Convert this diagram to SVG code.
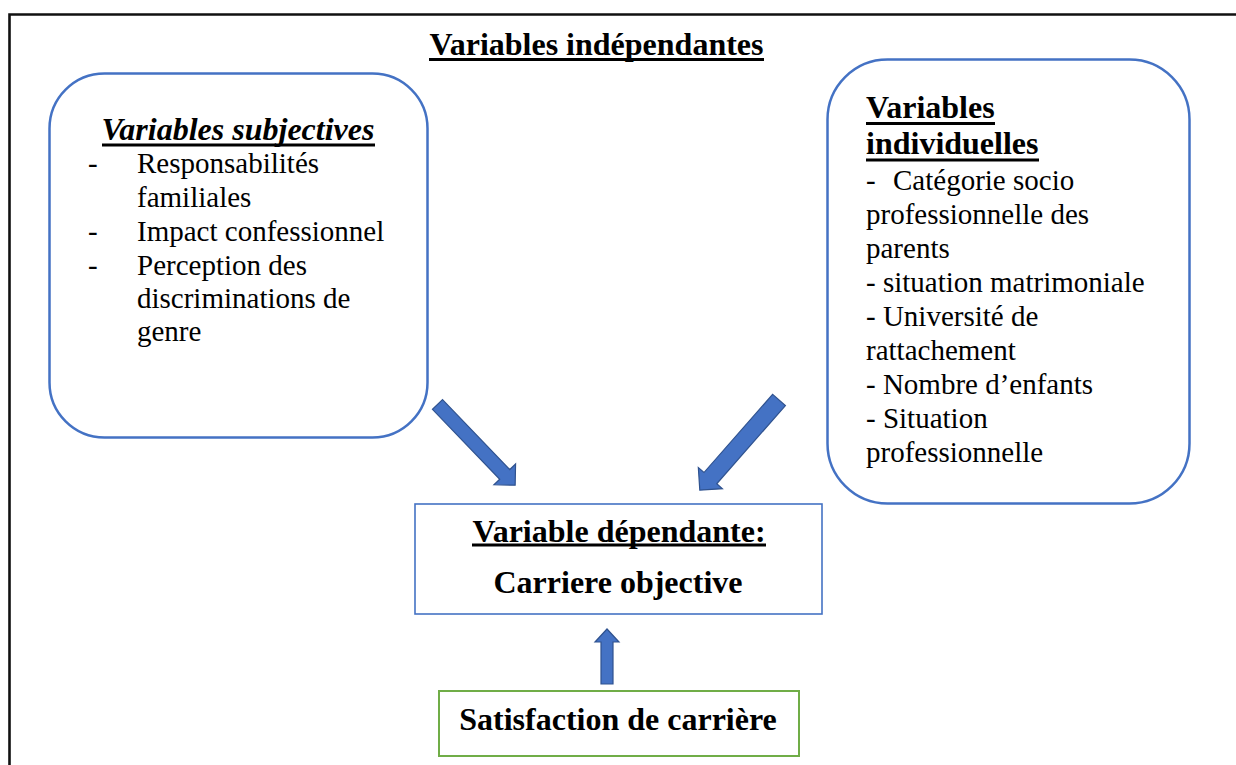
<svg xmlns="http://www.w3.org/2000/svg" width="1236" height="765" viewBox="0 0 1236 765">
  <defs>
    <style>
      text { font-family: 'Liberation Serif', 'Times New Roman', serif; fill: #000; }
      .b { font-weight: bold; font-size: 32px; }
      .r { font-size: 29px; }
      .bi { font-weight: bold; font-style: italic; font-size: 32px; }
      .ul { stroke: #000; stroke-width: 3; }
      .rbox { fill: #fff; stroke: #4472C4; stroke-width: 2.5; }
      .arrow { fill: #4472C4; stroke: #2F528F; stroke-width: 1.2; stroke-linejoin: miter; }
    </style>
  </defs>
  <rect width="1236" height="765" fill="#fff"/>
  <path d="M 9.5 775 L 9.5 14.5 L 1250 14.5" fill="none" stroke="#111" stroke-width="2.6"/>

  <g id="title">
    <text class="b" x="596.5" y="55" text-anchor="middle">Variables indépendantes</text>
    <line class="ul" x1="429" y1="59.5" x2="764" y2="59.5" stroke-width="3.5"/>
  </g>

  <g id="subjectives">
    <rect class="rbox" x="49.5" y="73.5" width="378" height="364" rx="55" ry="55"/>
    <text class="bi" x="238" y="140" text-anchor="middle">Variables subjectives</text>
    <line class="ul" x1="102" y1="145" x2="375" y2="145"/>
    <text class="r" x="88" y="173">-</text>
    <text class="r" x="137" y="173">Responsabilités</text>
    <text class="r" x="137" y="207">familiales</text>
    <text class="r" x="88" y="241">-</text>
    <text class="r" x="137" y="241">Impact confessionnel</text>
    <text class="r" x="88" y="275">-</text>
    <text class="r" x="137" y="275">Perception des</text>
    <text class="r" x="137" y="308">discriminations de</text>
    <text class="r" x="137" y="341">genre</text>
  </g>

  <g id="individuelles">
    <rect class="rbox" x="827.5" y="59.5" width="362" height="444" rx="60" ry="60"/>
    <text class="b" x="866" y="118">Variables</text>
    <line class="ul" x1="866" y1="123.5" x2="995" y2="123.5"/>
    <text class="b" x="866" y="154">individuelles</text>
    <line class="ul" x1="866" y1="160" x2="1039" y2="160"/>
    <text class="r" x="866" y="190">-</text>
    <text class="r" x="893" y="190">Catégorie socio</text>
    <text class="r" x="866" y="224">professionnelle des</text>
    <text class="r" x="866" y="258">parents</text>
    <text class="r" x="866" y="292">- situation matrimoniale</text>
    <text class="r" x="866" y="326">- Université de</text>
    <text class="r" x="866" y="360">rattachement</text>
    <text class="r" x="866" y="394">- Nombre d’enfants</text>
    <text class="r" x="866" y="428">- Situation</text>
    <text class="r" x="866" y="462">professionnelle</text>
  </g>

  <g id="dependante">
    <rect x="415" y="504" width="407" height="110" fill="#fff" stroke="#4472C4" stroke-width="1.6"/>
    <text class="b" x="619" y="542" text-anchor="middle">Variable dépendante:</text>
    <line class="ul" x1="472" y1="545" x2="766" y2="545" stroke-width="2.5"/>
    <text class="b" x="618" y="593" text-anchor="middle">Carriere objective</text>
  </g>

  <g id="satisfaction">
    <rect x="439" y="691" width="360" height="65" fill="#fff" stroke="#70AD47" stroke-width="2"/>
    <text class="b" x="618" y="730" text-anchor="middle">Satisfaction de carrière</text>
  </g>

  <g id="connectors">
    <polygon class="arrow" transform="translate(437.5,404.5) rotate(46.1)" points="0,-7 97,-7 97,-15 112,0 97,15 97,7 0,7"/>
    <polygon class="arrow" transform="translate(779,400) rotate(131.3)" points="0,-8.5 104,-8.5 104,-16 120,0 104,16 104,8.5 0,8.5"/>
    <polygon class="arrow" points="601,684 601,642 595,642 607,629 619,642 613,642 613,684"/>
  </g>
</svg>
